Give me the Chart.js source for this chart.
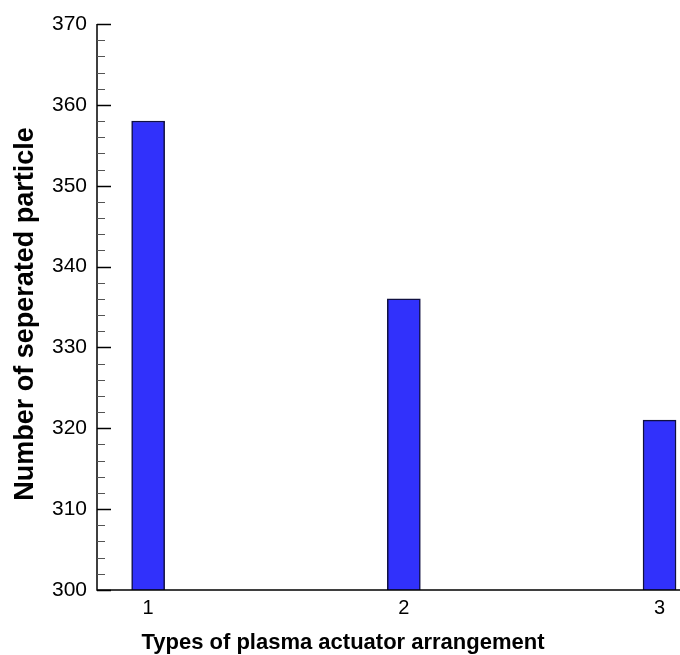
<!DOCTYPE html>
<html>
<head>
<meta charset="utf-8">
<title>Separated particles by actuator arrangement</title>
<script src="https://cdn.jsdelivr.net/npm/chart.js@4.4.1/dist/chart.umd.min.js"></script>
<style>
  html, body { margin: 0; padding: 0; background: #fff; }
  #wrap { width: 680px; height: 655px; position: relative; }
</style>
</head>
<body>
<div id="wrap"><canvas id="chart" width="680" height="655"></canvas></div>
<script>
/* ── Data ─────────────────────────────────────────────── */
const CATEGORIES = [1, 2, 3];
const COUNTS = [358, 336, 321];
const Y_TICKS = [300, 310, 320, 330, 340, 350, 360, 370];
const X_TITLE = "Types of plasma actuator arrangement";
const Y_TITLE = "Number of seperated particle";

const FONT = '"Liberation Sans", Arial, Helvetica, sans-serif';

/* ── Axis lines, inward ticks and titles ─────────────── */
const axesPlugin = {
  id: "axes",
  afterDraw(chart) {
    const { ctx, chartArea: a, scales: { y } } = chart;
    ctx.save();
    ctx.strokeStyle = "#000";
    ctx.lineWidth = 1.5;
    ctx.beginPath();
    ctx.moveTo(a.left, a.top);
    ctx.lineTo(a.left, a.bottom);
    ctx.lineTo(a.right, a.bottom);
    ctx.stroke();

    // major every 10, minor every 2
    const lo = Y_TICKS[0], hi = Y_TICKS[Y_TICKS.length - 1];
    for (let v = lo; v <= hi; v += 2) {
      const major = Y_TICKS.includes(v);
      const py = Math.round(y.getPixelForValue(v)) + 0.5;
      ctx.lineWidth = major ? 1.5 : 1;
      ctx.strokeStyle = major ? "#000" : "#555";
      ctx.beginPath();
      ctx.moveTo(a.left, py);
      ctx.lineTo(a.left + (major ? 14 : 8), py);
      ctx.stroke();
    }

    ctx.fillStyle = "#000";
    ctx.textAlign = "center";
    ctx.textBaseline = "alphabetic";
    ctx.font = "bold 22px " + FONT;
    ctx.fillText(X_TITLE, 343, 649);

    ctx.font = "bold 27px " + FONT;
    ctx.translate(33, 314);
    ctx.rotate(-Math.PI / 2);
    ctx.fillText(Y_TITLE, 0, 0);
    ctx.restore();
  }
};

new Chart(document.getElementById("chart"), {
  type: "bar",
  data: {
    datasets: [{
      data: CATEGORIES.map((c, i) => ({ x: c, y: COUNTS[i] })),
      backgroundColor: "#3131fb",
      borderColor: "#101040",
      borderWidth: 1.5,
      barThickness: 33
    }]
  },
  options: {
    responsive: false,
    animation: false,
    layout: { padding: { top: 24, right: 0, left: 0, bottom: 0 } },
    plugins: { legend: { display: false }, tooltip: { enabled: false } },
    scales: {
      x: {
        type: "linear",
        min: 0.8,
        max: 3.08,
        offset: false,
        grid: { display: false, drawTicks: false },
        border: { display: false },
        ticks: { padding: 6, color: "#000", font: { family: FONT, size: 20 } },
        afterBuildTicks: s => { s.ticks = CATEGORIES.map(v => ({ value: v })); },
        afterFit: s => { s.height = 65; }
      },
      y: {
        min: Y_TICKS[0],
        max: Y_TICKS[Y_TICKS.length - 1],
        grid: { display: false, drawTicks: false },
        border: { display: false },
        ticks: { stepSize: 10, padding: 10, color: "#000", font: { family: FONT, size: 21 } },
        afterBuildTicks: s => { s.ticks = Y_TICKS.map(v => ({ value: v })); },
        afterFit: s => { s.width = 97; }
      }
    }
  },
  plugins: [axesPlugin]
});
</script>
</body>
</html>
